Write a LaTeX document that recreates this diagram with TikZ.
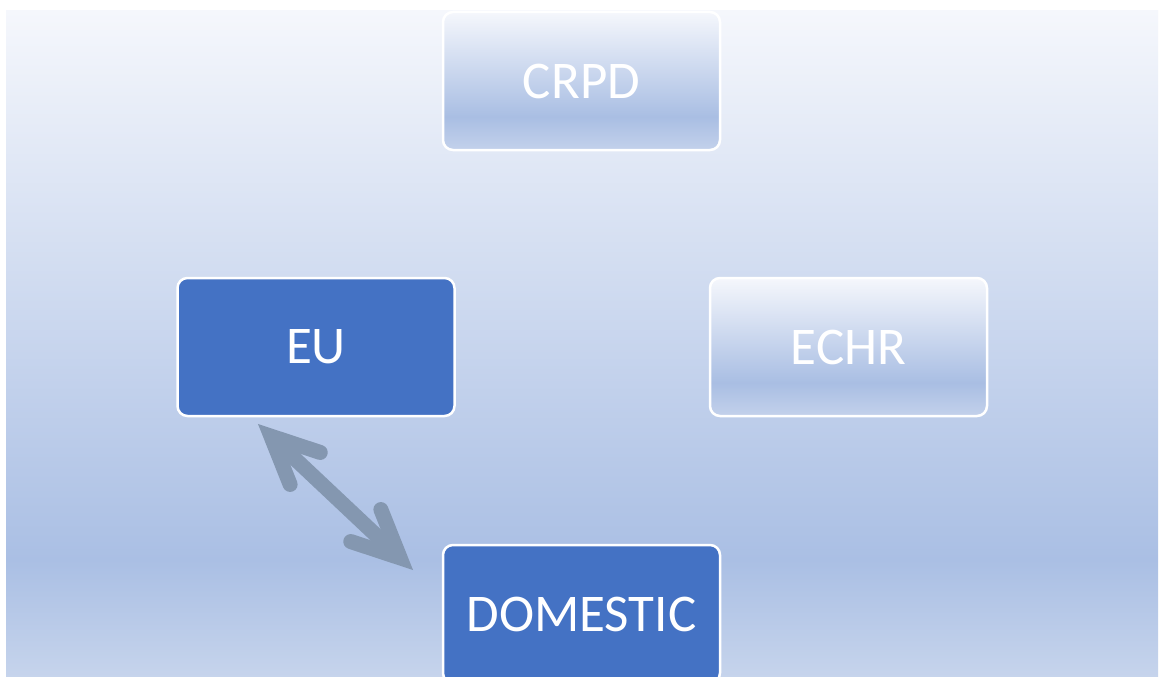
\documentclass[tikz,border=0pt]{standalone}
\usepackage{fontspec}
\setmainfont{Carlito}
\usetikzlibrary{calc}
\definecolor{bgtop}{HTML}{F5F7FC}
\definecolor{bgmid}{HTML}{AABFE4}
\definecolor{bgbot}{HTML}{C6D4EC}
\definecolor{bxtop}{HTML}{F5F7FC}
\definecolor{bxmid}{HTML}{A9BEE3}
\definecolor{bxbot}{HTML}{C3D1EB}
\definecolor{solidblue}{HTML}{4472C4}
\definecolor{arrowc}{HTML}{8497B0}
\pgfdeclareverticalshading{bgshade}{100bp}{color(0bp)=(bgbot); color(25bp)=(bgbot); color(33.8bp)=(bgmid); color(75bp)=(bgtop); color(100bp)=(bgtop)}
\pgfdeclareverticalshading{boxshade}{100bp}{color(0bp)=(bxbot); color(25bp)=(bxbot); color(37bp)=(bxmid); color(75bp)=(bxtop); color(100bp)=(bxtop)}
\begin{document}
\begin{tikzpicture}[x=1pt,y=-1pt,
  box/.style={rectangle, rounded corners=10pt, minimum width=277pt, minimum height=138pt,
    draw=white, line width=2.5pt, text=white, font=\fontsize{53}{64}\selectfont, inner sep=0pt},
  softbox/.style={box, shade, shading=boxshade},
  solidbox/.style={box, fill=solidblue},
  arrowline/.style={draw=arrowc, line width=15pt, line cap=round, line join=miter}]
\useasboundingbox (0,0) rectangle (1159,677);
\fill[white] (0,0) rectangle (1159,677);
\shade[shading=bgshade] (6,11) rectangle (1158,677);
\node[softbox] (crpd) at (581.5,81) {CRPD};
\node[solidbox] (eu) at (316,347) {EU};
\node[softbox] (echr) at (848.5,347) {ECHR};
\node[solidbox] (dom) at (581.5,614) {DOMESTIC};
\coordinate (t1) at (258,424);
\coordinate (t2) at (413,570);
\coordinate (v1) at ($(t1)!17.7pt!(t2)$);
\coordinate (v2) at ($(t2)!17.7pt!(t1)$);
\draw[arrowline, line cap=butt] (v1) -- (v2);
\draw[arrowline] ($(v1)!52pt!25:(v2)$) -- (v1) -- ($(v1)!52pt!-25:(v2)$);
\draw[arrowline] ($(v2)!52pt!25:(v1)$) -- (v2) -- ($(v2)!52pt!-25:(v1)$);
\end{tikzpicture}
\end{document}
